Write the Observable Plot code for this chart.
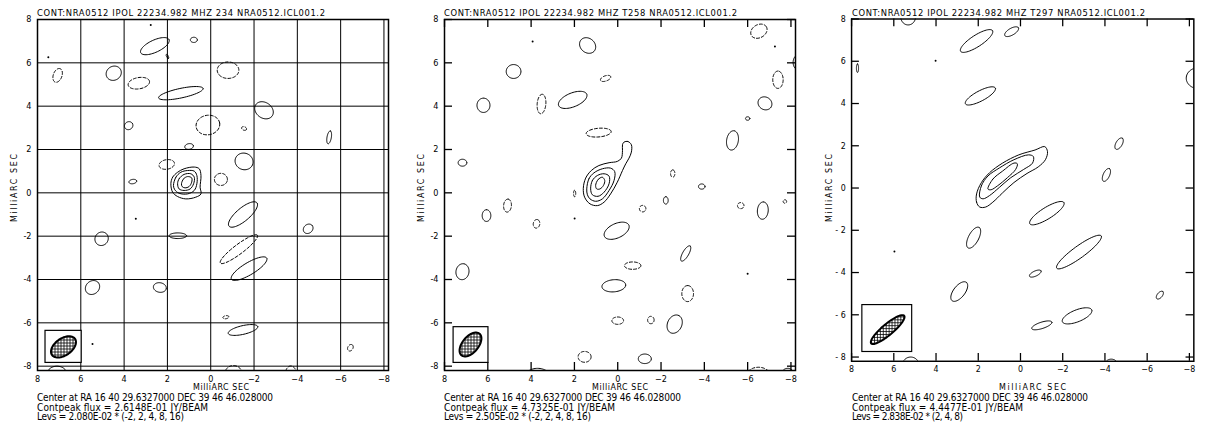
<!DOCTYPE html>
<html><head><meta charset="utf-8">
<script src="https://cdn.jsdelivr.net/npm/d3@7"></script>
<script src="https://cdn.jsdelivr.net/npm/@observablehq/plot@0.6"></script>
<style>
html,body{margin:0;padding:0;background:#fff;}
#wrap{position:relative;width:1207px;height:424px;overflow:hidden;background:#fff;}
.panel{position:absolute;top:0;}
#overlay{position:absolute;left:0;top:0;pointer-events:none;}
</style></head><body>
<svg width="0" height="0" style="position:absolute"><defs>
<pattern id="hatch" patternUnits="userSpaceOnUse" width="3" height="3"><rect width="3" height="3" fill="#fff"/><path d="M0,0.5H3M0.5,0V3" stroke="#000" stroke-width="0.8"/></pattern>
</defs></svg>
<div id="wrap"></div>
<script>
// ---------------- DATA ----------------
const xTicks = [8, 6, 4, 2, 0, -2, -4, -6, -8];
const yTicks = [8, 6, 4, 2, 0, -2, -4, -6, -8];

const titles = [
  "CONT:NRA0512  IPOL  22234.982 MHZ  234 NRA0512.ICL001.2",
  "CONT:NRA0512  IPOL  22234.982 MHZ  T258 NRA0512.ICL001.2",
  "CONT:NRA0512  IPOL  22234.982 MHZ  T297 NRA0512.ICL001.2"
];
const axisLabel = "MilliARC SEC";
const centerLines = [
  "Center at RA 16 40 29.6327000  DEC 39 46 46.028000",
  "Center at RA 16 40 29.6327000  DEC 39 46 46.028000",
  "Center at RA 16 40 29.6327000  DEC 39 46 46.028000"
];
const peakLines = [
  "Contpeak flux =  2.6148E-01 JY/BEAM",
  "Contpeak flux =  4.7325E-01 JY/BEAM",
  "Contpeak flux =  4.4477E-01 JY/BEAM"
];
const levLines = [
  "Levs = 2.080E-02 * (-2, 2, 4, 8, 16)",
  "Levs = 2.505E-02 * (-2, 2, 4, 8, 16)",
  "Levs = 2.838E-02 * (2, 4, 8)"
];

// contour blobs: [x, y, semi-major, semi-minor, tilt (deg, on screen)]
const p1Pos = [
  [2.58, 6.77, 0.72, 0.28, 25], [0.78, 7.06, 0.16, 0.12, 0], [2.0, 6.3, 0.1, 0.04, -60],
  [4.48, 5.52, 0.36, 0.32, 30], [1.38, 4.6, 1.05, 0.22, 12], [-2.46, 3.81, 0.46, 0.36, -35],
  [3.79, 3.1, 0.2, 0.18, 30], [-5.47, 2.56, 0.3, 0.1, 80], [1.0, 2.14, 0.2, 0.13, 10],
  [-1.54, 1.45, 0.42, 0.38, -20], [3.6, 0.52, 0.18, 0.1, 10], [-1.49, -1.0, 0.84, 0.3, 40],
  [-4.5, -1.66, 0.24, 0.2, 40], [5.04, -2.12, 0.32, 0.3, 50], [1.52, -1.98, 0.4, 0.13, 0],
  [-1.77, -3.5, 0.95, 0.28, 31], [5.46, -4.37, 0.35, 0.3, 40], [2.35, -4.37, 0.3, 0.22, -10],
  [-1.49, -6.33, 0.7, 0.2, 13], [7.1, -8.35, 0.45, 0.35, 0]
];
const p1Neg = [
  [7.07, 5.42, 0.33, 0.2, 70], [3.32, 5.06, 0.5, 0.26, 10], [-0.8, 5.66, 0.5, 0.38, 0],
  [0.13, 3.13, 0.55, 0.45, 10], [-1.54, 2.97, 0.12, 0.08, -20], [2.03, 1.31, 0.36, 0.22, 10],
  [-0.47, 0.62, 0.3, 0.28, 0], [-1.3, -2.6, 1.07, 0.22, 37], [-0.7, -5.74, 0.14, 0.07, 10],
  [-6.45, -7.15, 0.16, 0.12, 60], [-1.05, -8.35, 0.4, 0.38, 0], [-3.7, -8.35, 0.25, 0.36, 0]
];
const p1Dots = [[2.77, 7.75], [7.5, 6.26], [3.46, -1.2], [5.46, -6.98]];
const p1Core = [
  [[1.84,0.42],[1.76,0.72],[1.53,0.95],[1.23,1.11],[0.76,1.19],[0.53,1.11],[0.45,0.80],[0.49,0.26],[0.45,-0.05],[0.69,-0.20],[1.15,-0.28],[1.53,-0.17],[1.76,0.03]],
  [[1.72,0.34],[1.61,0.72],[1.38,0.95],[1.07,1.03],[0.76,1.0],[0.64,0.80],[0.64,0.42],[0.76,0.11],[1.07,-0.05],[1.46,-0.02],[1.66,0.14]],
  [[1.53,0.42],[1.46,0.65],[1.23,0.85],[0.92,0.88],[0.76,0.72],[0.79,0.42],[0.95,0.18],[1.23,0.11],[1.46,0.18]],
  [[1.35,0.42],[1.25,0.65],[1.07,0.75],[0.88,0.69],[0.88,0.49],[1.0,0.29],[1.19,0.23],[1.32,0.29]]
];
const p1Beam = [6.8, -7.11, 0.65, 0.39, 35];
const p1BeamBox = [7.63, 5.96, -6.37, -7.85];

const p2Pos = [
  [1.39, 6.8, 0.4, 0.33, -40], [4.81, 5.6, 0.34, 0.32, 0], [6.2, 4.04, 0.33, 0.3, 90],
  [2.08, 4.29, 0.7, 0.32, 22], [-6.8, 4.13, 0.33, 0.29, -30], [-5.3, 2.42, 0.45, 0.27, 80],
  [7.17, 1.39, 0.2, 0.16, 0], [-3.88, 0.29, 0.15, 0.12, 0], [-2.22, -0.35, 0.17, 0.11, 90],
  [6.06, -1.05, 0.27, 0.2, 90], [0.05, -1.75, 0.62, 0.33, 25], [-6.7, -0.82, 0.4, 0.25, 85],
  [-3.14, -2.8, 0.4, 0.14, 60], [7.17, -3.64, 0.37, 0.3, 80], [0.18, -4.29, 0.55, 0.28, 5],
  [-2.63, -6.06, 0.44, 0.33, 65], [-1.25, -7.66, 0.3, 0.22, 0], [3.7, -8.45, 0.55, 0.35, 0],
  [-8.35, 6.02, 0.35, 0.25, 90], [-7.85, -8.4, 0.3, 0.3, 0], [-6.0, 3.43, 0.1, 0.08, 0]
];
const p2Neg = [
  [0.56, 5.28, 0.25, 0.12, 20], [3.52, 4.1, 0.45, 0.2, 85], [0.88, 2.78, 0.58, 0.2, 5],
  [-6.52, 7.46, 0.4, 0.3, 30], [-7.4, 5.22, 0.4, 0.24, 90], [-2.54, 0.89, 0.17, 0.1, 90],
  [-1.15, -0.73, 0.15, 0.15, 0], [1.99, -0.03, 0.15, 0.05, 90], [5.09, -0.59, 0.3, 0.18, 85],
  [3.75, -1.43, 0.2, 0.15, 80], [-5.68, -0.59, 0.15, 0.14, 0], [-7.72, -0.4, 0.08, 0.08, 0],
  [-0.69, -3.36, 0.38, 0.17, 0], [-3.23, -4.65, 0.37, 0.27, 90], [0.0, -5.9, 0.27, 0.17, 0],
  [-1.53, -5.87, 0.15, 0.17, 0], [1.53, -7.57, 0.3, 0.25, 0], [-6.5, -8.45, 0.55, 0.4, 0]
];
const p2Dots = [[3.93, 6.98], [-7.26, 6.75], [-6.0, -3.73], [1.99, -1.19]];
const p2Core = [
  [[-0.29,2.34],[-0.47,2.37],[-0.63,2.22],[-0.63,1.88],[-0.52,1.60],[-0.37,1.34],[-0.22,1.03],[0.02,0.49],[0.33,-0.05],[0.63,-0.43],[0.94,-0.59],[1.28,-0.51],[1.53,-0.20],[1.59,0.21],[1.48,0.68],[1.22,1.03],[0.87,1.26],[0.40,1.39],[0.02,1.45],[-0.17,1.60],[-0.22,1.96],[-0.22,2.22]],
  [[1.43,0.18],[1.33,0.65],[1.10,0.92],[0.71,1.11],[0.33,1.14],[0.14,0.98],[0.17,0.57],[0.40,0.11],[0.71,-0.28],[1.02,-0.39],[1.28,-0.28],[1.40,-0.09]],
  [[1.25,0.18],[1.17,0.57],[0.94,0.80],[0.63,0.88],[0.40,0.77],[0.40,0.42],[0.63,0.03],[0.91,-0.16],[1.17,-0.09]],
  [[1.02,0.34],[0.91,0.61],[0.71,0.72],[0.60,0.57],[0.66,0.34],[0.82,0.18],[0.97,0.18]]
];
const p2Beam = [6.8, -7.0, 0.65, 0.37, 50];
const p2BeamBox = [7.58, 5.97, -6.2, -7.85];

const p3Pos = [
  [2.08, 6.96, 0.9, 0.27, 33], [0.42, 7.4, 0.37, 0.16, 30], [1.9, 4.36, 0.8, 0.24, 28],
  [-4.67, 2.1, 0.3, 0.15, 60], [-4.07, 0.62, 0.33, 0.15, 65], [-1.25, -1.19, 0.95, 0.27, 32],
  [2.22, -2.35, 0.55, 0.24, 62], [-2.77, -3.03, 1.3, 0.28, 36], [-0.7, -4.05, 0.3, 0.12, 25],
  [2.9, -4.9, 0.55, 0.27, 52], [-6.6, -5.07, 0.22, 0.12, 50], [-2.68, -6.05, 0.75, 0.28, 22],
  [-1.01, -6.5, 0.5, 0.15, 18], [5.32, 8.1, 0.35, 0.38, 0], [7.72, 5.67, 0.2, 0.05, 90],
  [-8.45, 5.2, 0.6, 0.5, 0], [5.2, -8.4, 0.4, 0.4, 0], [-4.3, -8.35, 0.3, 0.25, 0]
];
const p3Neg = [];
const p3Dots = [[4.02, 6.02], [5.97, -3.0]];
const p3Core = [
  [[1.93,-0.90],[2.08,-0.67],[2.08,-0.28],[1.85,0.26],[1.47,0.72],[0.85,1.18],[0.08,1.57],[-0.69,1.80],[-1.15,1.96],[-1.28,1.72],[-1.18,1.34],[-0.84,1.0],[-0.31,0.69],[0.31,0.26],[0.85,-0.23],[1.31,-0.67],[1.65,-0.90]],
  [[1.93,-0.43],[1.85,0.11],[1.54,0.57],[1.0,0.95],[0.31,1.34],[-0.38,1.57],[-0.61,1.49],[-0.57,1.18],[-0.15,0.88],[0.46,0.49],[1.0,0.03],[1.47,-0.36],[1.77,-0.51]],
  [[1.54,-0.05],[1.31,0.42],[0.85,0.80],[0.31,1.18],[0.15,1.15],[0.23,0.88],[0.62,0.49],[1.08,0.11],[1.39,-0.08]]
];
const p3Beam = [6.29, -6.7, 1.02, 0.26, 40];
const p3BeamBox = [7.49, 5.13, -5.54, -7.76];

// ---------------- LAYOUT ----------------
const FONT = '"Liberation Sans Narrow","DejaVu Sans Condensed","Arial Narrow",sans-serif';
const lefts = [0, 407, 815];
const W = 402, H = 392, ML = 37, MR = 14, MT = 19, MB = 22;
const PW = W - ML - MR, PH = H - MT - MB;

function ellipsePts(e, id) {
  const [cx, cy, a, b, deg] = e, r = deg * Math.PI / 180, pts = [];
  for (let i = 0; i < 60; i++) {
    const t = i / 60 * 2 * Math.PI;
    const sx = a * Math.cos(r) * Math.cos(t) - b * Math.sin(r) * Math.sin(t);
    const sy = a * Math.sin(r) * Math.cos(t) + b * Math.cos(r) * Math.sin(t);
    pts.push({x: cx - sx, y: cy + sy, id}); // x axis runs right-to-left
  }
  return pts;
}

const hy = d => d < 0 ? "-" + (-d) : String(d);
const panels = [
  {pos: p1Pos, neg: p1Neg, dots: p1Dots, core: p1Core, beam: p1Beam, box: p1BeamBox, grid: true, yfmt: hy},
  {pos: p2Pos, neg: p2Neg, dots: p2Dots, core: p2Core, beam: p2Beam, box: p2BeamBox, grid: false, yfmt: hy},
  {pos: p3Pos, neg: p3Neg, dots: p3Dots, core: p3Core, beam: p3Beam, box: p3BeamBox, grid: false, yfmt: d => d < 0 ? "- " + (-d) : String(d)}
];

const wrap = d3.select("#wrap");
panels.forEach((p, i) => {
  const pos = p.pos.flatMap((e, k) => ellipsePts(e, "p" + k));
  const neg = p.neg.flatMap((e, k) => ellipsePts(e, "n" + k));
  const core = p.core.flatMap((c, k) => c.map(([x, y]) => ({x, y, id: "c" + k})));
  const beam = ellipsePts(p.beam, "b");
  const marks = [];
  if (p.grid) {
    marks.push(Plot.ruleX(xTicks, {stroke: "#000", strokeWidth: 1}));
    marks.push(Plot.ruleY(yTicks, {stroke: "#000", strokeWidth: 1}));
  } else {
    marks.push(Plot.ruleX(xTicks, {stroke: "#000", strokeWidth: 1.3, insetBottom: PH - 8}));
    marks.push(Plot.ruleX(xTicks, {stroke: "#000", strokeWidth: 1.3, insetTop: PH - 8}));
    marks.push(Plot.ruleY(yTicks, {stroke: "#000", strokeWidth: 1.3, insetRight: PW - 8}));
    marks.push(Plot.ruleY(yTicks, {stroke: "#000", strokeWidth: 1.3, insetLeft: PW - 8}));
  }
  marks.push(Plot.line(pos, {x: "x", y: "y", z: "id", curve: "linear-closed", stroke: "#000", strokeWidth: 1, clip: true}));
  marks.push(Plot.line(neg, {x: "x", y: "y", z: "id", curve: "linear-closed", stroke: "#000", strokeWidth: 1, strokeDasharray: "3,2", clip: true}));
  marks.push(Plot.line(core, {x: "x", y: "y", z: "id", curve: "catmull-rom-closed", stroke: "#000", strokeWidth: 1, clip: true}));
  marks.push(Plot.dot(p.dots, {x: d => d[0], y: d => d[1], r: 1, fill: "#000", stroke: null}));
  marks.push(Plot.rect([p.box], {x1: d => d[0], x2: d => d[1], y1: d => d[2], y2: d => d[3], fill: "#fff", stroke: "#000", strokeWidth: 1.2}));
  marks.push(Plot.line(beam, {x: "x", y: "y", curve: "linear-closed", fill: "url(#hatch)", stroke: "#000", strokeWidth: 2}));
  marks.push(Plot.frame({stroke: "#000", strokeWidth: 1.5}));

  const svg = Plot.plot({
    width: W, height: H, marginLeft: ML, marginRight: MR, marginTop: MT, marginBottom: MB,
    x: {domain: [8, -8.21], ticks: xTicks, tickSize: 0, tickPadding: 5, label: null},
    y: {domain: [-8.2, 8], ticks: yTicks, tickSize: 0, tickPadding: 6, label: null, tickFormat: p.yfmt},
    style: {fontFamily: FONT, fontSize: "9px", color: "#000", background: "transparent", overflow: "visible"},
    marks
  });
  const div = wrap.append("div").attr("class", "panel").style("left", lefts[i] + "px");
  div.node().appendChild(svg);
});

// ---------------- TEXT (titles, axis labels, captions) ----------------
const ov = wrap.append("svg").attr("id", "overlay").attr("width", 1207).attr("height", 424)
  .style("font-family", FONT);
const titleW = [288, 293, 293];
const xLabPos = [[193, 56], [592, 56], [999, 67]];
const capW = [[236, 171, 147], [237, 171, 147], [236, 171, 111]];
function txt(x, y, s, w, size, extra) {
  const t = ov.append("text").attr("x", x).attr("y", y).attr("font-size", size)
    .attr("textLength", w).attr("lengthAdjust", "spacing").attr("fill", "#000").text(s);
  if (extra) extra(t);
  return t;
}
panels.forEach((p, i) => {
  const fl = lefts[i] + ML;
  txt(fl, 16, titles[i], titleW[i], 9.3);
  txt(xLabPos[i][0], 390, axisLabel, xLabPos[i][1], 8.8);
  txt(0, 0, axisLabel, 68, 8.8, t => t.attr("text-anchor", "middle")
    .attr("transform", `translate(${fl - 23 + 3},188) rotate(-90)`));
  txt(fl, 400.7, centerLines[i], capW[i][0], 10);
  txt(fl, 410.5, peakLines[i], capW[i][1], 10);
  txt(fl, 420.3, levLines[i], capW[i][2], 10);
});
</script>
</body></html>
